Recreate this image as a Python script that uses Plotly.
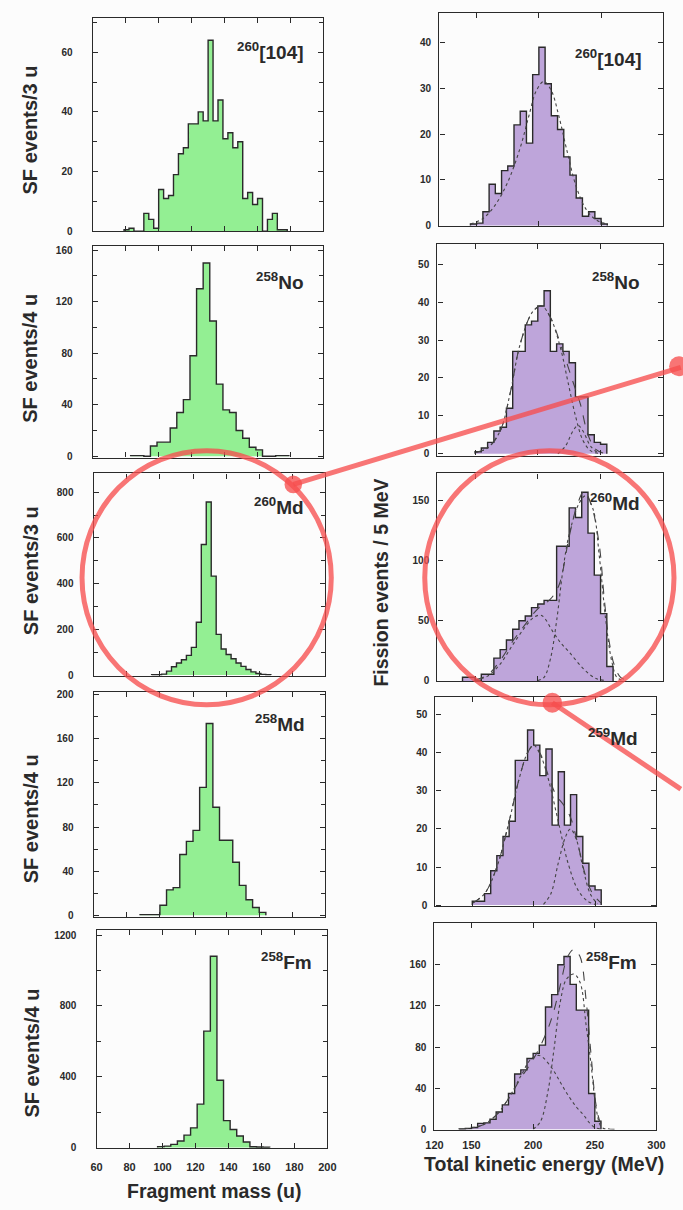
import numpy as np
import plotly.graph_objects as go

W, H = 683, 1210

# ---------------- data: fragment-mass histograms (left column) ----------------
rf104_mass_start, rf104_mass_bin = 79, 3
rf104_mass_counts = [0.5, 1, 0, 0, 6, 4, 1, 14, 11, 12, 19, 26, 28, 36, 36, 40, 37, 64, 37, 44,
                     31, 33, 28, 30, 11, 13, 9, 11, 0, 4, 6, 0.5, 0.5]
no258_mass_start, no258_mass_bin = 83, 4
no258_mass_counts = [0.5, 0.5, 0, 8, 11, 11, 22, 34, 44, 78, 130, 150, 105, 56, 36, 34, 20, 14, 7, 5,
                     0, 0, 0.5, 0.5]
md260_mass_start, md260_mass_bin = 95, 3
md260_mass_counts = [2, 2, 4, 17, 36, 53, 67, 86, 121, 231, 571, 757, 433, 178, 114, 90, 71, 53, 38,
                     24, 14, 7, 3, 2]
md258_mass_start, md258_mass_bin = 88, 4
md258_mass_counts = [0.5, 0.5, 0.5, 9, 23, 25, 55, 67, 77, 116, 174, 98, 68, 68, 48, 27, 14, 7, 2.5]
fm258_mass_start, fm258_mass_bin = 97, 4
fm258_mass_counts = [5, 8, 18, 37, 70, 111, 245, 657, 1080, 380, 152, 102, 65, 31, 4, 3, 2]

# ---------------- data: TKE histograms (right column) ----------------
tke_bin = 5
rf104_tke_start = 145
rf104_tke_counts = [0.3, 0.5, 3, 9, 7, 12, 13, 22, 25, 18, 33, 39, 31, 24, 21, 15, 11, 6, 2, 3, 1.5, 0.3]
no258_tke_start = 150
no258_tke_counts = [0.5, 1.5, 3, 6, 7, 12, 27, 27, 34, 35, 39, 43, 27, 29, 27, 24, 15, 15, 5, 3, 2.5]
md260_tke_start = 140
md260_tke_counts = [3, 3, 0.5, 5.5, 5.5, 19, 26, 34, 43, 50, 54, 61, 64, 67, 67, 112, 112, 144, 136,
                    157, 123, 88, 56, 12]
md259_tke_start = 150
md259_tke_counts = [1, 1, 3, 9, 13, 18, 22, 38, 38, 46, 42, 34, 41, 21, 35, 21, 29, 18, 11, 5, 4]
fm258_tke_start = 140
fm258_tke_counts = [0.5, 1, 2, 6, 6.5, 10, 17, 24, 35, 54, 58, 69, 74, 82, 119, 131, 160, 168, 141,
                    116, 116, 35, 8]

# ---------------- data: fitted curves ----------------
rf104_fit_x = [145, 155, 165, 175, 185, 192, 198, 204, 210, 216, 222, 230, 238, 246, 255]
rf104_fit_y = [0.3, 1.5, 4.5, 9.5, 17, 24, 29.5, 31.5, 29.5, 24, 17, 8.5, 3.5, 1.2, 0.3]

no258_tot_x = [150, 160, 170, 178, 186, 196, 203, 210, 220, 228, 234, 240, 246, 252]
no258_tot_y = [0.3, 1.5, 6, 16, 29, 37.5, 39, 36, 27, 19, 13, 5, 1.2, 0.2]
no258_c1_x = [150, 160, 170, 178, 186, 196, 203, 210, 218, 224, 230, 236, 242, 248]
no258_c1_y = [0.3, 1.5, 6, 16, 29, 37.5, 39, 36, 28, 19, 10, 3.5, 0.8, 0.1]
no258_c2_x = [216, 222, 228, 232, 236, 242, 248]
no258_c2_y = [0, 2, 6, 7.5, 6, 2, 0.2]

md260_tot_x = [150, 160, 170, 180, 190, 200, 210, 217, 225, 231, 237, 243, 249, 253, 257, 261, 266, 272]
md260_tot_y = [1, 5, 17, 33, 47, 60, 68, 80, 120, 145, 158, 145, 113, 68, 32, 13, 3, 0.5]
md260_c1_x = [150, 160, 170, 180, 190, 197, 203, 212, 218, 225, 236, 246, 255]
md260_c1_y = [0.5, 4, 14, 30, 45, 53, 54.5, 41, 32, 24, 10.5, 2.2, 0.3]
md260_c2_x = [200, 205, 210, 215, 220, 225, 233, 238, 244, 249, 254, 259, 263, 268]
md260_c2_y = [0.3, 3, 18, 50, 92, 122, 148, 154, 143, 104, 52, 16, 3, 0.3]

md259_tot_x = [150, 160, 170, 180, 188, 195, 200, 205, 212, 218, 225, 230, 236, 242, 248, 255]
md259_tot_y = [0.5, 3, 10, 22, 33, 40, 42, 40, 34, 29, 26, 23, 16, 8, 3, 0.5]
md259_c1_x = [150, 160, 170, 180, 188, 195, 200, 206, 212, 220, 228, 236, 244, 250]
md259_c1_y = [0.5, 3, 10, 22, 33, 40, 42, 39, 33, 22, 11, 4, 1, 0.2]
md259_c2_x = [208, 214, 220, 226, 230, 235, 240, 246, 252]
md259_c2_y = [0.2, 3, 11, 18, 20, 17, 10, 3, 0.3]

fm258_tot_x = [140, 150, 160, 170, 180, 190, 200, 210, 216, 222, 228, 233, 238, 243, 247, 251, 255, 260, 266]
fm258_tot_y = [0.3, 1.5, 5, 14, 30, 50, 68, 92, 112, 140, 168, 175, 168, 125, 72, 24, 6, 1, 0.2]
fm258_c1_x = [150, 160, 170, 180, 190, 198, 205, 215, 222, 228, 235, 241, 246, 250, 256]
fm258_c1_y = [1.5, 5, 14, 30, 52, 68, 72, 60, 46, 34, 22, 14, 6, 2, 0.3]
fm258_c2_x = [200, 206, 212, 217, 222, 227, 233, 238, 243, 247, 251, 255, 259]
fm258_c2_y = [0.3, 8, 37, 79, 124, 146, 151, 143, 101, 63, 21, 3, 0.3]

# ---------------- labels / tick values ----------------
left_labels = ["<sup>260</sup>[104]", "<sup>258</sup>No", "<sup>260</sup>Md", "<sup>258</sup>Md", "<sup>258</sup>Fm"]
right_labels = ["<sup>260</sup>[104]", "<sup>258</sup>No", "<sup>260</sup>Md", "<sup>259</sup>Md", "<sup>258</sup>Fm"]
left_ytitles = ["SF events/3 u", "SF events/4 u", "SF events/3 u", "SF events/4 u", "SF events/4 u"]
mass_ticks = [60, 80, 100, 120, 140, 160, 180, 200]
tke_ticks = [120, 150, 200, 250, 300]
left_yticks = [[0, 20, 40, 60], [0, 40, 80, 120, 160], [0, 200, 400, 600, 800], [0, 40, 80, 120, 160, 200],
               [0, 400, 800, 1200]]
right_yticks = [[0, 10, 20, 30, 40], [0, 10, 20, 30, 40, 50], [0, 50, 100, 150], [0, 10, 20, 30, 40, 50],
                [0, 40, 80, 120, 160]]

# ---------------- styling / layout (pixels) ----------------
FONT = "Liberation Sans, Arial, sans-serif"
INK = "#2a2a2a"
GREEN = "#93ef93"
PURPLE = "#bea5da"
RED = "rgba(246,78,78,0.78)"

def fx(px):
    return px / W

def fy(py):
    return 1 - py / H

def bold(vals):
    return ["<b>%d</b>" % v for v in vals]

def steps(start, width, counts):
    c = np.asarray(counts, dtype=float)
    edges = start + width * np.arange(len(c) + 1)
    return np.concatenate([[edges[0]], edges]), np.concatenate([[0.0], c, [0.0]])

left_hists = [
    (rf104_mass_start, rf104_mass_bin, rf104_mass_counts),
    (no258_mass_start, no258_mass_bin, no258_mass_counts),
    (md260_mass_start, md260_mass_bin, md260_mass_counts),
    (md258_mass_start, md258_mass_bin, md258_mass_counts),
    (fm258_mass_start, fm258_mass_bin, fm258_mass_counts),
]
right_hists = [
    (rf104_tke_start, tke_bin, rf104_tke_counts),
    (no258_tke_start, tke_bin, no258_tke_counts),
    (md260_tke_start, tke_bin, md260_tke_counts),
    (md259_tke_start, tke_bin, md259_tke_counts),
    (fm258_tke_start, tke_bin, fm258_tke_counts),
]
right_fits = [
    [(rf104_fit_x, rf104_fit_y, "dot")],
    [(no258_tot_x, no258_tot_y, "dash"), (no258_c1_x, no258_c1_y, "dot"), (no258_c2_x, no258_c2_y, "dot")],
    [(md260_tot_x, md260_tot_y, "dash"), (md260_c1_x, md260_c1_y, "dot"), (md260_c2_x, md260_c2_y, "dot")],
    [(md259_tot_x, md259_tot_y, "dash"), (md259_c1_x, md259_c1_y, "dot"), (md259_c2_x, md259_c2_y, "dot")],
    [(fm258_tot_x, fm258_tot_y, "dash"), (fm258_c1_x, fm258_c1_y, "dot"), (fm258_c2_x, fm258_c2_y, "dot")],
]

left_boxes = [(86, 323, 15, 230), (86, 323, 245, 458), (87, 325, 474, 678), (87, 325, 694, 921), (90, 327, 934, 1154)]
right_boxes = [(442, 672, 10, 225), (440, 672, 243, 456), (440, 672, 474, 683), (438, 665, 699, 910), (437, 665, 927, 1135)]
left_yr = [([0, 71.5], 10), ([-1, 163], 20), ([-4, 882], 100), ([-1.8, 202.7], 20), ([-5, 1228], 200)]
right_yr = [[-0.2, 46.5], [-0.5, 55.3], [0, 172.6], [-0.3, 54.7], [0, 200.5]]
left_lab_pos = [(305, 48), (305, 280), (305, 507), (306, 725), (313, 965)]
right_lab_pos = [(652, 55), (650, 280), (650, 503), (648, 740), (647, 965)]
left_ytitle_pos = [(22, 128), (22, 358), (22, 572), (22, 822), (24, 1058)]

fig = go.Figure()
layout = {}
annotations = []

def axis_common(size=10):
    return dict(showline=True, linecolor=INK, linewidth=1.4, mirror="ticks", ticks="inside",
                ticklen=5, tickwidth=1.3, tickcolor=INK, showgrid=False, zeroline=False,
                tickfont=dict(family=FONT, size=size, color=INK))

n = 0
for i in range(5):
    n += 1
    s = "" if n == 1 else str(n)
    x, y = steps(*left_hists[i])
    fig.add_trace(go.Scatter(x=x, y=y, mode="lines", line=dict(shape="hv", color=INK, width=1.4),
                             fill="tozeroy", fillcolor=GREEN, xaxis="x" + s, yaxis="y" + s,
                             hoverinfo="skip", showlegend=False))
    x0, x1, y0, y1 = left_boxes[i]
    xa = axis_common(11)
    xa.update(domain=[fx(x0), fx(x1)], range=[60, 200], anchor="y" + s, tickvals=mass_ticks,
              ticktext=bold(mass_ticks), showticklabels=(i == 4), ticklabelstandoff=8)
    rng, mdt = left_yr[i]
    ya = axis_common(10)
    ya.update(domain=[fy(y1), fy(y0)], range=rng, anchor="x" + s, tickvals=left_yticks[i],
              ticktext=bold(left_yticks[i]), ticklabelstandoff=17,
              minor=dict(dtick=mdt, tick0=0, ticks="inside", ticklen=4, tickwidth=1.2, tickcolor=INK, showgrid=False))
    layout["xaxis" + s] = xa
    layout["yaxis" + s] = ya
    lx, ly = left_lab_pos[i]
    annotations.append(dict(x=fx(lx), y=fy(ly), xref="paper", yref="paper", xanchor="right", yanchor="middle",
                            text="<b>" + left_labels[i] + "</b>", showarrow=False,
                            font=dict(family=FONT, size=19, color=INK)))
    tx, ty = left_ytitle_pos[i]
    annotations.append(dict(x=fx(tx), y=fy(ty), xref="paper", yref="paper", xanchor="center", yanchor="middle",
                            text="<b>" + left_ytitles[i] + "</b>", textangle=-90, showarrow=False,
                            font=dict(family=FONT, size=20, color=INK)))

for i in range(5):
    n += 1
    s = str(n)
    x, y = steps(*right_hists[i])
    fig.add_trace(go.Scatter(x=x, y=y, mode="lines", line=dict(shape="hv", color=INK, width=1.4),
                             fill="tozeroy", fillcolor=PURPLE, xaxis="x" + s, yaxis="y" + s,
                             hoverinfo="skip", showlegend=False))
    for fxs, fys, dash in right_fits[i]:
        fig.add_trace(go.Scatter(x=fxs, y=fys, mode="lines",
                                 line=dict(shape="spline", color="#444444", width=1.1, dash=dash),
                                 xaxis="x" + s, yaxis="y" + s, hoverinfo="skip", showlegend=False))
    x0, x1, y0, y1 = right_boxes[i]
    xa = axis_common(11)
    xa.update(domain=[fx(x0), fx(x1)], range=[120, 300], anchor="y" + s, tickvals=tke_ticks,
              ticktext=bold(tke_ticks), showticklabels=(i == 4), ticklabelstandoff=5)
    ya = axis_common(10)
    ya.update(domain=[fy(y1), fy(y0)], range=right_yr[i], anchor="x" + s, tickvals=right_yticks[i],
              ticktext=bold(right_yticks[i]), ticklabelstandoff=5)
    layout["xaxis" + s] = xa
    layout["yaxis" + s] = ya
    lx, ly = right_lab_pos[i]
    annotations.append(dict(x=fx(lx), y=fy(ly), xref="paper", yref="paper", xanchor="right", yanchor="middle",
                            text="<b>" + right_labels[i] + "</b>", showarrow=False,
                            font=dict(family=FONT, size=19, color=INK)))

annotations.append(dict(x=fx(382), y=fy(584), xref="paper", yref="paper", xanchor="center", yanchor="middle",
                        text="<b>Fission events / 5 MeV</b>", textangle=-90, showarrow=False,
                        font=dict(family=FONT, size=19.5, color=INK)))
annotations.append(dict(x=fx(211), y=fy(1197), xref="paper", yref="paper", xanchor="center", yanchor="middle",
                        text="<b>Fragment mass (u)</b>", showarrow=False,
                        font=dict(family=FONT, size=19.5, color=INK)))
annotations.append(dict(x=fx(549), y=fy(1170), xref="paper", yref="paper", xanchor="center", yanchor="middle",
                        text="<b>Total kinetic energy (MeV)</b>", showarrow=False,
                        font=dict(family=FONT, size=19.5, color=INK)))

shapes = []
def circle(cx, cy, r, filled=False, width=5):
    d = dict(type="circle", xref="paper", yref="paper",
             x0=fx(cx - r), x1=fx(cx + r), y0=fy(cy + r), y1=fy(cy - r), layer="above")
    if filled:
        d.update(fillcolor=RED, line=dict(width=0))
    else:
        d.update(line=dict(color=RED, width=width))
    return d

def seg(xa_, ya_, xb, yb, width=5):
    return dict(type="line", xref="paper", yref="paper", x0=fx(xa_), y0=fy(ya_), x1=fx(xb), y1=fy(yb),
                line=dict(color=RED, width=width), layer="above")

shapes.append(circle(203, 579, 128))
shapes.append(circle(555, 579, 128))
shapes.append(seg(292, 485, 690, 367))
shapes.append(seg(558, 705, 690, 792))
shapes.append(circle(292, 485, 9, filled=True))
shapes.append(circle(558, 705, 10, filled=True))
shapes.append(circle(688, 366, 10, filled=True))

fig.update_layout(width=W, height=H, margin=dict(l=0, r=0, t=0, b=0),
                  paper_bgcolor="#fcfcfc", plot_bgcolor="rgba(0,0,0,0)",
                  showlegend=False, annotations=annotations, shapes=shapes, **layout)

fig.write_html("out.html")
